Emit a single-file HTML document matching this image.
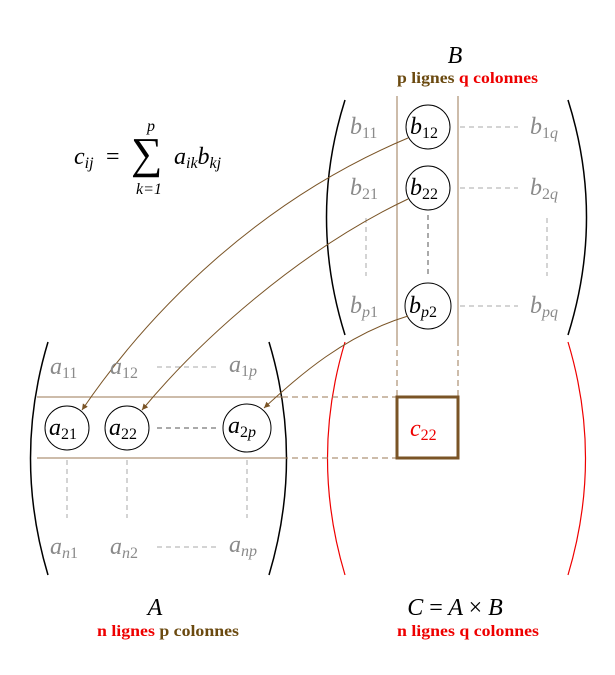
<!DOCTYPE html>
<html><head><meta charset="utf-8"><style>
body{margin:0;background:#fff}
svg{display:block}
text{font-family:"Liberation Serif",serif}
.m{font-style:italic;font-size:24px}
.g{fill:#8a8a8a}
.s{font-size:16px}
.si{font-style:italic;font-size:16px}
</style></head><body>
<svg width="615" height="675" viewBox="0 0 615 675" xmlns="http://www.w3.org/2000/svg">
<defs><marker id="ar" markerWidth="8" markerHeight="8" refX="6" refY="3" orient="auto"><path d="M0,0 L6,3 L0,6 z" fill="#7a5426"/></marker></defs>
<path d="M345,100 Q308,217 345,335" fill="none" stroke="#000" stroke-width="1.5"/>
<path d="M568,100 Q605,217 568,335" fill="none" stroke="#000" stroke-width="1.5"/>
<path d="M48,342 Q13,458 48,575" fill="none" stroke="#000" stroke-width="1.5"/>
<path d="M269,342 Q304,458 269,575" fill="none" stroke="#000" stroke-width="1.5"/>
<path d="M345,342 Q310,458 345,575" fill="none" stroke="#e00" stroke-width="1.2"/>
<path d="M568,342 Q603,458 568,575" fill="none" stroke="#e00" stroke-width="1.2"/>
<g stroke="#9b7a55" stroke-width="1">
<line x1="397" y1="96" x2="397" y2="340"/><line x1="458" y1="96" x2="458" y2="340"/>
<line x1="37" y1="397" x2="282" y2="397"/><line x1="37" y1="458" x2="282" y2="458"/>
</g>
<g stroke="#9b7a55" stroke-width="1" stroke-dasharray="6,4">
<line x1="397" y1="340" x2="397" y2="397"/><line x1="458" y1="340" x2="458" y2="397"/>
<line x1="282" y1="397" x2="397" y2="397"/><line x1="282" y1="458" x2="397" y2="458"/>
</g>
<g stroke="#aaa" stroke-width="1" stroke-dasharray="5,4">
<line x1="460" y1="127" x2="518" y2="127"/><line x1="460" y1="188" x2="518" y2="188"/><line x1="460" y1="306" x2="518" y2="306"/>
<line x1="366" y1="218" x2="366" y2="276"/><line x1="547" y1="218" x2="547" y2="276"/>
<line x1="157" y1="367" x2="218" y2="367"/><line x1="157" y1="547" x2="218" y2="547"/>
<line x1="67" y1="460" x2="67" y2="518"/><line x1="127" y1="460" x2="127" y2="518"/><line x1="247" y1="460" x2="247" y2="518"/>
</g>
<g stroke="#555" stroke-width="1" stroke-dasharray="5,4">
<line x1="428" y1="215" x2="428" y2="278"/><line x1="157" y1="428" x2="220" y2="428"/>
</g>
<g fill="none" stroke="#000" stroke-width="1">
<circle cx="428" cy="127" r="22"/><circle cx="428" cy="188" r="22"/><circle cx="428" cy="306" r="23"/>
<circle cx="67" cy="428" r="22"/><circle cx="127" cy="428" r="22"/><circle cx="247" cy="428" r="24"/>
</g>
<rect x="397" y="397" width="61" height="61" fill="none" stroke="#7a5426" stroke-width="3"/>
<g fill="none" stroke="#7a5426" stroke-width="1" marker-end="url(#ar)">
<path d="M408,138 C260,200 150,310 82,410"/>
<path d="M408,199 C300,250 200,340 142,410"/>
<path d="M408,316 C345,335 300,375 264,408"/>
</g>
<g class="m g">
<text x="350" y="134">b<tspan class="s" font-style="normal" dy="4">11</tspan></text>
<text x="350" y="195">b<tspan class="s" font-style="normal" dy="4">21</tspan></text>
<text x="350" y="313">b<tspan class="si" dy="4">p</tspan><tspan class="s" font-style="normal">1</tspan></text>
<text x="530" y="134">b<tspan class="s" font-style="normal" dy="4">1</tspan><tspan class="si">q</tspan></text>
<text x="530" y="195">b<tspan class="s" font-style="normal" dy="4">2</tspan><tspan class="si">q</tspan></text>
<text x="530" y="313">b<tspan class="si" dy="4">pq</tspan></text>
<text x="50" y="374">a<tspan class="s" font-style="normal" dy="4">11</tspan></text>
<text x="110" y="374">a<tspan class="s" font-style="normal" dy="4">12</tspan></text>
<text x="229" y="372">a<tspan class="s" font-style="normal" dy="4">1</tspan><tspan class="si">p</tspan></text>
<text x="50" y="554">a<tspan class="si" dy="4">n</tspan><tspan class="s" font-style="normal">1</tspan></text>
<text x="110" y="554">a<tspan class="si" dy="4">n</tspan><tspan class="s" font-style="normal">2</tspan></text>
<text x="229" y="552">a<tspan class="si" dy="4">np</tspan></text>
</g>
<g class="m">
<text x="410" y="134">b<tspan class="s" font-style="normal" dy="4">12</tspan></text>
<text x="410" y="195">b<tspan class="s" font-style="normal" dy="4">22</tspan></text>
<text x="409" y="313">b<tspan class="si" dy="4">p</tspan><tspan class="s" font-style="normal">2</tspan></text>
<text x="49" y="435">a<tspan class="s" font-style="normal" dy="4">21</tspan></text>
<text x="109" y="435">a<tspan class="s" font-style="normal" dy="4">22</tspan></text>
<text x="228" y="433">a<tspan class="s" font-style="normal" dy="4">2</tspan><tspan class="si">p</tspan></text>
<text x="410" y="436" fill="#e00">c<tspan class="s" font-style="normal" dy="4">22</tspan></text>
</g>
<g class="m">
<text x="74" y="164">c<tspan class="si" dy="4">ij</tspan></text>
<text x="106" y="164" font-style="normal">=</text>
<text x="131" y="168" font-style="normal" font-size="44">∑</text>
<text x="147" y="131" class="si">p</text>
<text x="136" y="194" class="s"><tspan font-style="italic">k</tspan>=1</text>
<text x="174" y="164">a<tspan class="si" dy="4">ik</tspan><tspan dy="-4">b</tspan><tspan class="si" dy="4">kj</tspan></text>
</g>
<text class="m" x="455" y="63" text-anchor="middle">B</text>
<text x="397" y="83" font-size="16" font-weight="bold" textLength="141" lengthAdjust="spacingAndGlyphs"><tspan fill="#6b4a10">p lignes </tspan><tspan fill="#e00">q colonnes</tspan></text>
<text class="m" x="155" y="615" text-anchor="middle">A</text>
<text x="97" y="636" font-size="16" font-weight="bold" textLength="142" lengthAdjust="spacingAndGlyphs"><tspan fill="#e00">n lignes </tspan><tspan fill="#6b4a10">p colonnes</tspan></text>
<text class="m" x="455" y="615" text-anchor="middle">C <tspan font-style="normal">=</tspan> A <tspan font-style="normal">×</tspan> B</text>
<text x="397" y="636" font-size="16" font-weight="bold" fill="#e00" textLength="142" lengthAdjust="spacingAndGlyphs">n lignes q colonnes</text>
</svg>
</body></html>
